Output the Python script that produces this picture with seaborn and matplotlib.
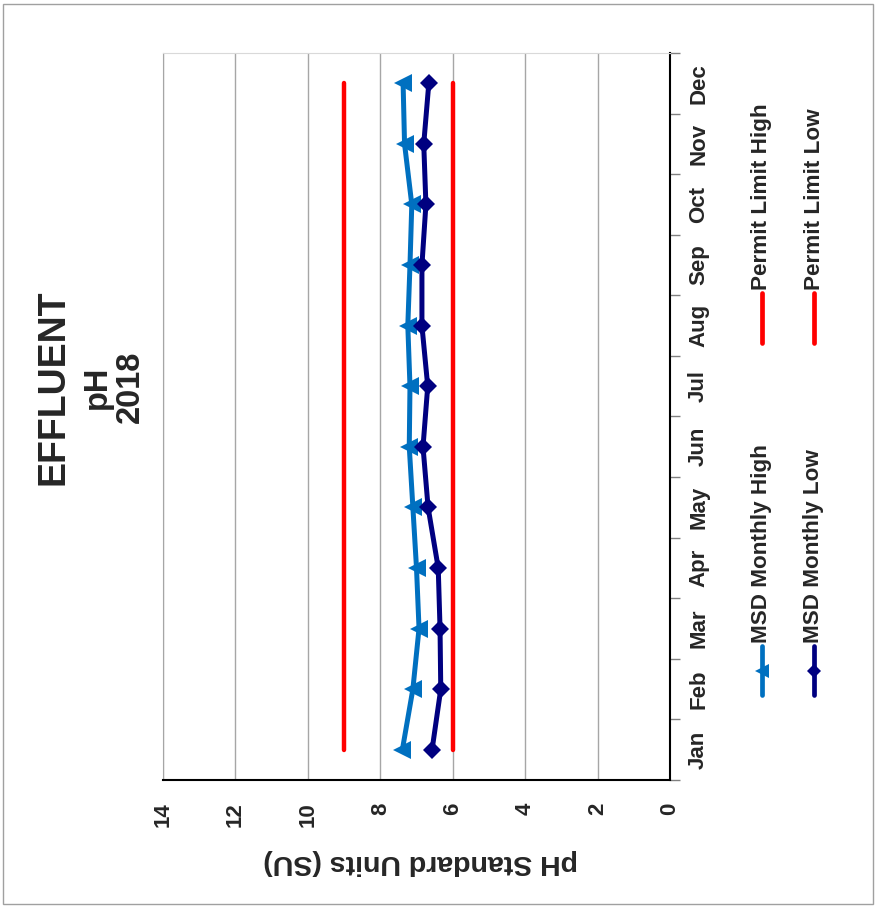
import matplotlib
matplotlib.use('Agg')
import matplotlib.pyplot as plt
import seaborn as sns
import numpy as np
import pandas as pd
from matplotlib.lines import Line2D
from matplotlib.patches import Rectangle

# ---- data ----
months = ['Jan', 'Feb', 'Mar', 'Apr', 'May', 'Jun', 'Jul', 'Aug', 'Sep', 'Oct', 'Nov', 'Dec']
msd_high = [7.39, 7.10, 6.93, 7.00, 7.10, 7.20, 7.18, 7.24, 7.18, 7.13, 7.33, 7.37]
msd_low = [6.57, 6.33, 6.35, 6.40, 6.68, 6.82, 6.69, 6.85, 6.85, 6.74, 6.80, 6.66]
permit_high = [9, 9, 9, 9, 9, 9, 9, 9, 9, 9, 9, 9]
permit_low = [6, 6, 6, 6, 6, 6, 6, 6, 6, 6, 6, 6]
ph_ticks = [0, 2, 4, 6, 8, 10, 12, 14]
title_lines = ['EFFLUENT', 'pH', '2018']
axis_label = 'pH Standard Units (SU)'

sns.set_style('white')
plt.rcParams['font.family'] = ['Liberation Sans', 'DejaVu Sans']
plt.rcParams['font.weight'] = 'bold'

W, H = 877, 907
fig = plt.figure(figsize=(W / 100, H / 100), dpi=100)
fig.patch.set_facecolor('white')

L, R, T, B = 163, 670, 53, 780
ax = fig.add_axes([L / W, 1 - B / H, (R - L) / W, (B - T) / H])

pos = np.arange(len(months))
df = pd.DataFrame({'month': months, 'pos': pos, 'high': msd_high, 'low': msd_low,
                   'phigh': permit_high, 'plow': permit_low})

C_HIGH = '#0070C0'
C_LOW = '#000080'
C_RED = '#FF0000'

sns.lineplot(data=df, x='phigh', y='pos', orient='y', ax=ax, color=C_RED, lw=3.2)
sns.lineplot(data=df, x='plow', y='pos', orient='y', ax=ax, color=C_RED, lw=3.2)
sns.lineplot(data=df, x='high', y='pos', orient='y', ax=ax, color=C_HIGH, lw=3.6,
             marker='<', markersize=13.5, markeredgewidth=0)
sns.lineplot(data=df, x='low', y='pos', orient='y', ax=ax, color=C_LOW, lw=3.6,
             marker='D', markersize=9.5, markeredgewidth=0)

ax.set_xlim(14, 0)
ax.set_ylim(-0.5, len(months) - 0.5)
ax.set_xlabel('')
ax.set_ylabel('')

ax.set_xticks(ph_ticks)
ax.set_xticklabels([str(t) for t in ph_ticks], rotation=90, fontsize=16, fontweight='bold')
ax.tick_params(axis='x', direction='out', length=7, width=1, color='#808080', pad=9)
ax.grid(axis='x', color='#A6A6A6', lw=1)
ax.grid(axis='y', visible=False)

ax.yaxis.tick_right()
ax.set_yticks(pos)
ax.set_yticklabels(months, rotation=90, va='center', fontsize=16, fontweight='bold')
ax.set_yticks(np.arange(-0.5, len(months), 1), minor=True)
ax.tick_params(axis='y', which='major', length=0, pad=13)
ax.tick_params(axis='y', which='minor', direction='out', length=7, width=1, color='#808080')

for side, col in [('right', 'black'), ('bottom', 'black'), ('left', '#A6A6A6'), ('top', '#D9D9D9')]:
    ax.spines[side].set_visible(True)
    ax.spines[side].set_color(col)
ax.spines['right'].set_linewidth(1.5)
ax.spines['bottom'].set_linewidth(1.5)

fig.text(421 / W, 1 - 862 / H, axis_label, rotation=180, ha='center', va='center',
         fontsize=20.5, fontweight='bold')

# title (rotated)
fig.text(53 / W, 1 - 387 / H, title_lines[0], rotation=90, ha='center', va='center',
         fontsize=27, fontweight='bold')
fig.text(97 / W, 1 - 387 / H, title_lines[1], rotation=90, ha='center', va='center',
         fontsize=23.5, fontweight='bold')
fig.text(130 / W, 1 - 387 / H, title_lines[2], rotation=90, ha='center', va='center',
         fontsize=23.5, fontweight='bold')

# legend (manual, rotated)
entries = [
    (762, 695, 646, 'MSD Monthly High', C_HIGH, '<', 10),
    (762, 343, 293, 'Permit Limit High', C_RED, None, 0),
    (814, 695, 646, 'MSD Monthly Low', C_LOW, 'D', 7.5),
    (814, 343, 293, 'Permit Limit Low', C_RED, None, 0),
]
for x, y0, y1, label, col, mk, ms in entries:
    fig.add_artist(Line2D([x / W, x / W], [1 - y0 / H, 1 - y1 / H], transform=fig.transFigure,
                          color=col, lw=3.4, solid_capstyle='round'))
    if mk:
        fig.add_artist(Line2D([x / W], [1 - (y0 + y1) / 2 / H], transform=fig.transFigure,
                              color=col, marker=mk, markersize=ms, markeredgewidth=0, lw=0))
    fig.text(x / W, 1 - (y1 - 3) / H, label, rotation=90, ha='center', va='bottom',
             fontsize=16.2, fontweight='bold')

fig.add_artist(Rectangle((3 / W, 3 / H), (W - 7) / W, (H - 7) / H, transform=fig.transFigure,
                         fill=False, edgecolor='#A0A0A0', lw=1))

fig.savefig('out.png', dpi=100)
